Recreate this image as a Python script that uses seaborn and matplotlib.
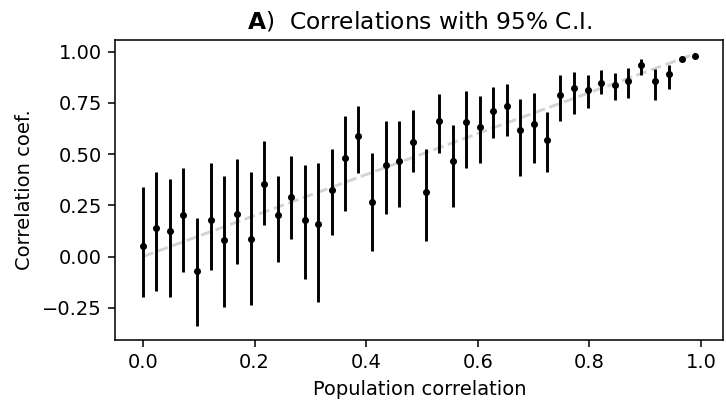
import matplotlib
matplotlib.use("Agg")
import matplotlib.pyplot as plt
import seaborn as sns
import numpy as np
import pandas as pd

pop_corr = [0.000, 0.024, 0.048, 0.072, 0.097, 0.121, 0.145, 0.169, 0.193, 0.217,
            0.241, 0.266, 0.290, 0.314, 0.338, 0.362, 0.386, 0.410, 0.435, 0.459,
            0.483, 0.507, 0.531, 0.555, 0.579, 0.604, 0.628, 0.652, 0.676, 0.700,
            0.724, 0.748, 0.773, 0.797, 0.821, 0.845, 0.869, 0.893, 0.917, 0.942,
            0.966, 0.990]
sample_corr = [0.052, 0.137, 0.123, 0.201, -0.070, 0.180, 0.080, 0.209, 0.086, 0.352,
               0.201, 0.288, 0.180, 0.159, 0.324, 0.483, 0.589, 0.267, 0.445, 0.468,
               0.561, 0.316, 0.661, 0.468, 0.654, 0.633, 0.712, 0.733, 0.619, 0.648,
               0.568, 0.790, 0.820, 0.811, 0.849, 0.836, 0.856, 0.936, 0.856, 0.892,
               0.962, 0.977]
ci_low = [-0.196, -0.167, -0.196, -0.074, -0.339, -0.067, -0.245, -0.038, -0.239, 0.155,
          -0.025, 0.085, -0.110, -0.224, 0.106, 0.222, 0.407, 0.026, 0.208, 0.244,
          0.414, 0.077, 0.507, 0.244, 0.430, 0.458, 0.579, 0.586, 0.393, 0.458,
          0.414, 0.659, 0.694, 0.723, 0.793, 0.766, 0.774, 0.885, 0.766, 0.816,
          0.955, 0.972]
ci_high = [0.340, 0.410, 0.376, 0.433, 0.190, 0.455, 0.391, 0.476, 0.410, 0.565,
           0.391, 0.491, 0.448, 0.455, 0.527, 0.684, 0.735, 0.504, 0.663, 0.663,
           0.713, 0.527, 0.793, 0.641, 0.807, 0.785, 0.828, 0.842, 0.769, 0.798,
           0.705, 0.885, 0.900, 0.885, 0.908, 0.893, 0.921, 0.964, 0.915, 0.936,
           0.968, 0.982]

df = pd.DataFrame({"pop": pop_corr, "r": sample_corr, "lo": ci_low, "hi": ci_high})

DPI = 140
fig = plt.figure(figsize=(726 / DPI, 400 / DPI), dpi=DPI)
ax = fig.add_axes([0.159, 0.151, 0.837, 0.749])

sns.lineplot(data=df, x="pop", y="pop", ax=ax, color="lightgray",
             linestyle="--", linewidth=1.5, zorder=1)
ax.vlines(df["pop"], df["lo"], df["hi"], color="black", linewidth=1.5, zorder=2)
sns.scatterplot(data=df, x="pop", y="r", ax=ax, color="black", s=13,
                edgecolor="black", linewidth=0, zorder=3)

ax.set_xlabel("Population correlation")
ax.set_ylabel("Correlation coef.")
ax.set_title(r"$\bf{A}$)  Correlations with 95% C.I.", fontsize=12)
ax.set_xticks([0.0, 0.2, 0.4, 0.6, 0.8, 1.0])
ax.set_yticks([-0.25, 0.0, 0.25, 0.5, 0.75, 1.0])

fig.savefig("out.png", dpi=DPI)
